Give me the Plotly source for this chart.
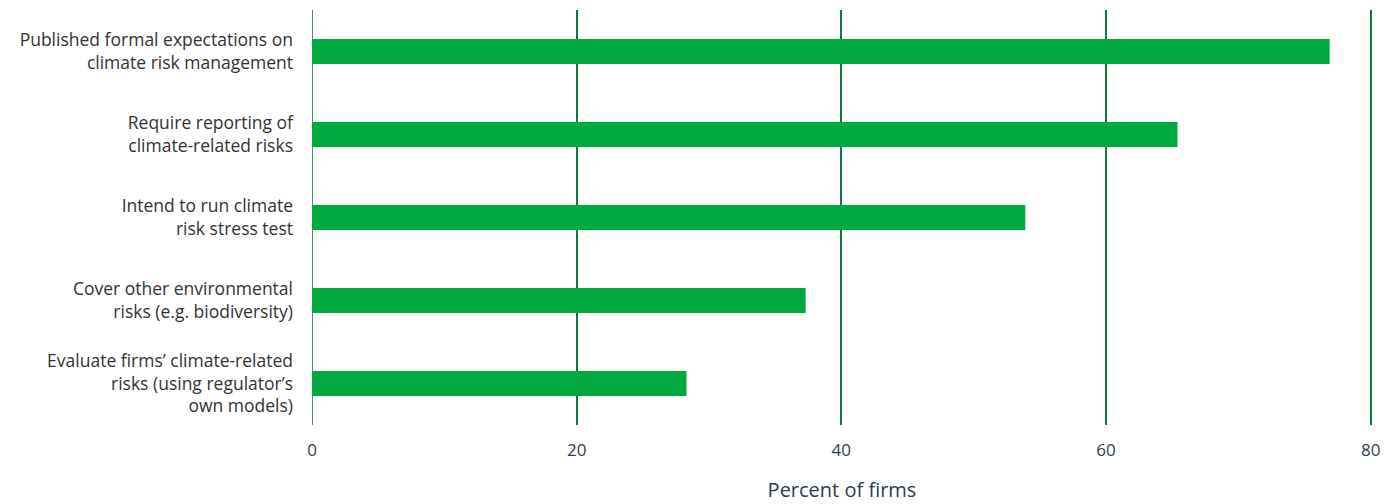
import plotly.graph_objects as go

# categories (top to bottom) and share of firms
categories = [
    "Published formal expectations on<br>climate risk management",
    "Require reporting of<br>climate-related risks",
    "Intend to run climate<br>risk stress test",
    "Cover other environmental<br>risks (e.g. biodiversity)",
    "Evaluate firms’ climate-related<br>risks (using regulator’s<br>own models)",
]
percent = [76.9, 65.4, 53.9, 37.3, 28.3]
x_ticks = [0, 20, 40, 60, 80]

fig = go.Figure()
fig.add_trace(go.Bar(
    x=percent[::-1],
    y=categories[::-1],
    orientation="h",
    marker=dict(color="#00A940", line=dict(width=0)),
    width=0.3,
))

fig.update_layout(
    width=1397, height=504,
    margin=dict(l=304, r=33, t=2, b=87),
    plot_bgcolor="white", paper_bgcolor="white",
    font=dict(family="Open Sans, Lato, sans-serif", size=17.5, color="#333333"),
    showlegend=False,
    xaxis=dict(
        range=[0, 80.1], tickvals=x_ticks,
        showgrid=True, gridcolor="#0B7A3E", gridwidth=1.5,
        zeroline=False, showline=False,
        ticks="", ticklabelstandoff=13,
        tickfont=dict(color="#2E3E4E", size=17),
        title=dict(text="Percent of firms", font=dict(size=20, color="#2E3E4E"), standoff=22),
    ),
    yaxis=dict(
        showgrid=False, zeroline=False,
        showline=False, ticks="", ticklabelstandoff=18,
        tickfont=dict(size=17.5, color="#333333"),
    ),
)
fig.add_vline(x=0, line=dict(color="#0B6B35", width=1.5), layer="below")

fig.write_html("out.html")
